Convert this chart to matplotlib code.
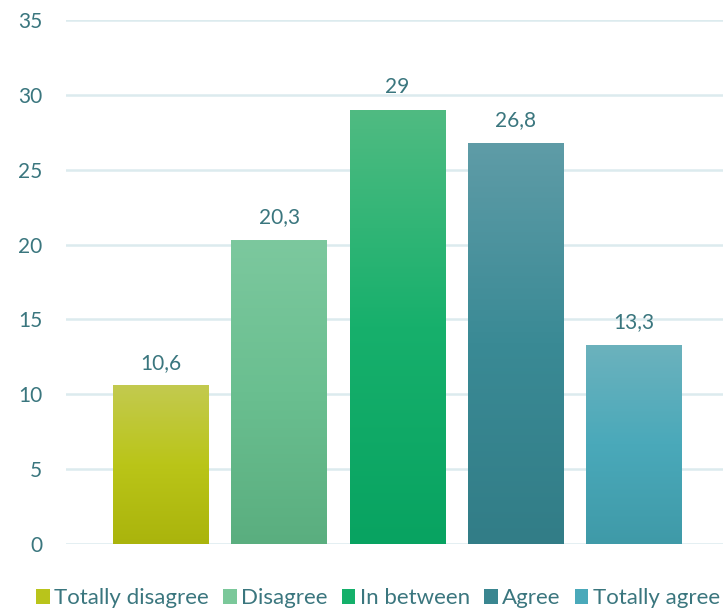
import numpy as np
import matplotlib
matplotlib.use("Agg")
import matplotlib.pyplot as plt
from matplotlib.colors import LinearSegmentedColormap
from matplotlib.patches import Patch

categories = ['Totally disagree', 'Disagree', 'In between', 'Agree', 'Totally agree']
values = [10.6, 20.3, 29, 26.8, 13.3]
labels = ['10,6', '20,3', '29', '26,8', '13,3']

# gradient colours per bar: top, middle, bottom
grad = [
    ['#c3ca4f', '#bac518', '#aab40c'],
    ['#7cc89e', '#6abf90', '#5aae7f'],
    ['#50bb82', '#17b06c', '#08a361'],
    ['#5f9ca7', '#3a8a95', '#327d87'],
    ['#6cb2bd', '#4aa9ba', '#3f9aa8'],
]
legend_cols = ['#b9c41b', '#7bc89a', '#14b06a', '#3a8690', '#4aa9ba']

txt = '#3a767e'
grid_c = '#dcebee'

plt.rcParams['font.family'] = ['Lato', 'DejaVu Sans']

fig = plt.figure(figsize=(7.23, 6.10), dpi=100)
ax = fig.add_axes([66 / 723, 1 - 544 / 610, 1 - 66 / 723, (544 - 20) / 610])

x = np.arange(len(values))
bars = ax.bar(x, values, width=0.81, color='none', zorder=3)

for b, cs in zip(bars, grad):
    cmap = LinearSegmentedColormap.from_list('g', cs[::-1])
    x0, y0 = b.get_x(), b.get_y()
    w, h = b.get_width(), b.get_height()
    img = ax.imshow(np.linspace(0, 1, 256).reshape(-1, 1), cmap=cmap, origin='lower',
                    extent=[x0, x0 + w, y0, y0 + h], aspect='auto', zorder=3)
    img.set_clip_path(b)

for i, (v, l) in enumerate(zip(values, labels)):
    ax.annotate(l, (i, v), xytext=(0, 9), textcoords='offset points',
                ha='center', va='bottom', fontsize=15, color=txt)

ax.set_xlim(-0.803, 4.753)
ax.set_ylim(0, 35)
ax.set_yticks(range(0, 36, 5))
ax.set_xticks([])
ax.yaxis.grid(True, color=grid_c, linewidth=1.8, zorder=0)
ax.set_axisbelow(True)
for s in ax.spines.values():
    s.set_visible(False)
ax.tick_params(axis='y', length=0, pad=17, labelsize=15, labelcolor=txt)

handles = [Patch(facecolor=c, edgecolor='none') for c in legend_cols]
leg = fig.legend(handles, categories, loc='lower center', bbox_to_anchor=(0.523, -0.03),
                 ncol=5, frameon=False, fontsize=16, handlelength=0.6, handleheight=0.6,
                 handletextpad=0.2, columnspacing=0.65)
for t in leg.get_texts():
    t.set_color(txt)

fig.savefig('out.png', dpi=100)
